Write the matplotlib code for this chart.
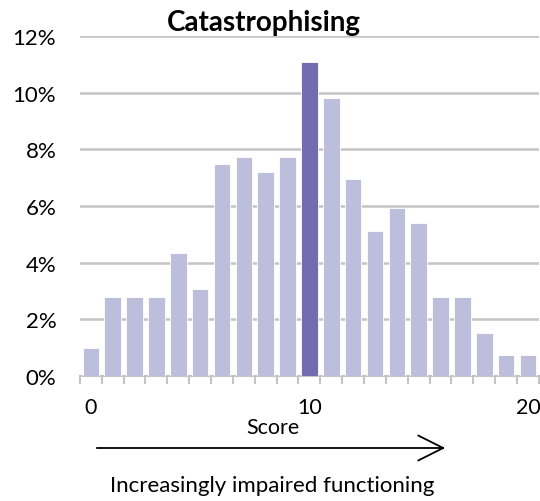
import matplotlib.pyplot as plt
import numpy as np

plt.rcParams['font.family'] = ['Lato', 'DejaVu Sans']

# Distribution of catastrophising scores (percent of respondents)
scores = list(range(21))
percent = [1.0, 2.8, 2.8, 2.8, 4.35, 3.07, 7.47, 7.73, 7.22, 7.73, 11.1,
           9.8, 6.95, 5.13, 5.92, 5.39, 2.8, 2.8, 1.51, 0.75, 0.75]
highlight = 10
tick_labels = ['0', '10', '20']
title = 'Catastrophising'

light = '#BDBDDC'
dark = '#756BB1'
grey = '#C4C4C4'

fig = plt.figure(figsize=(5.4, 5.02), dpi=100)
ax = fig.add_axes([0.148, 0.249, 0.85, 0.677])

colors = [dark if s == highlight else light for s in scores]
ax.bar(scores, percent, width=0.76, color=colors, edgecolor='white', linewidth=0.6, zorder=3)

ax.set_xlim(-0.5, 20.5)
ax.set_ylim(0, 12)
ax.set_yticks(range(0, 13, 2))
ax.set_yticklabels([f'{v}%' for v in range(0, 13, 2)], fontsize=16)
ax.yaxis.grid(True, color=grey, linewidth=1.8, zorder=0)
ax.tick_params(axis='y', length=0, pad=17)

ax.set_xticks([0, 10, 20])
ax.set_xticklabels(tick_labels, fontsize=15.5)
ax.set_xticks(np.arange(-0.5, 21, 1), minor=True)
ax.tick_params(axis='x', which='major', length=0, pad=15)
ax.tick_params(axis='x', which='minor', length=6, width=1.5, color=grey)

for side in ['left', 'right', 'top']:
    ax.spines[side].set_visible(False)
ax.spines['bottom'].set_color(grey)
ax.spines['bottom'].set_linewidth(1.5)

fig.text(0.489, 0.955, title, ha='center', va='center', fontsize=20, fontweight='bold')
fig.text(0.506, 0.147, 'Score', ha='center', va='center', fontsize=15.5)

fig.add_artist(plt.matplotlib.patches.FancyArrowPatch(
    (94 / 540, 1 - 449 / 502), (448 / 540, 1 - 449 / 502),
    transform=fig.transFigure, arrowstyle='->,head_length=1.2,head_width=0.6',
    mutation_scale=15, color='black', linewidth=1.3))
fig.text(0.504, 0.032, 'Increasingly impaired functioning', ha='center', va='center', fontsize=16)

plt.savefig('out.png', dpi=100)
